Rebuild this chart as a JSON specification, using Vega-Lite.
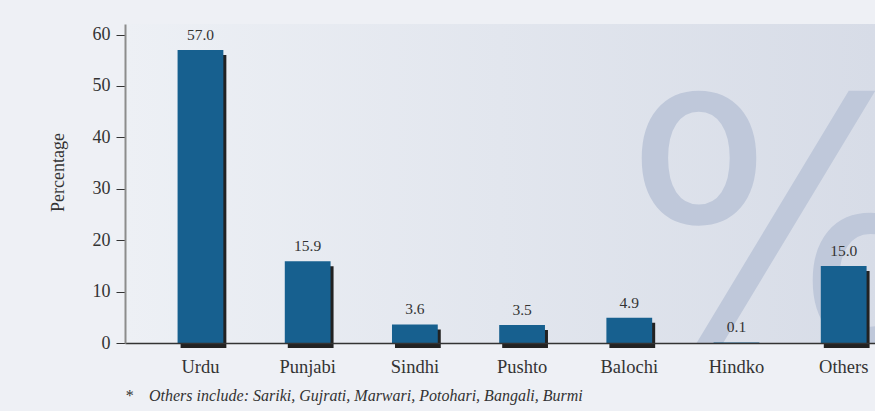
{
  "$schema": "https://vega.github.io/schema/vega-lite/v6.json",
  "width": 750,
  "height": 319,
  "autosize": {"type": "none"},
  "padding": {"left": 125, "top": 24, "right": 0, "bottom": 68},
  "background": "#eef0f5",
  "config": {"view": {"stroke": null}},
  "title": {
    "text": "*\u00a0\u00a0\u00a0\u00a0Others include: Sariki, Gujrati, Marwari, Potohari, Bangali, Burmi",
    "orient": "bottom",
    "anchor": "start",
    "frame": "group",
    "offset": 12,
    "font": "Liberation Serif",
    "fontSize": 16,
    "fontStyle": "italic",
    "fontWeight": "normal",
    "color": "#333333"
  },
  "data": {
    "values": [
      {"lang": "Urdu", "pct": 57.0},
      {"lang": "Punjabi", "pct": 15.9},
      {"lang": "Sindhi", "pct": 3.6},
      {"lang": "Pushto", "pct": 3.5},
      {"lang": "Balochi", "pct": 4.9},
      {"lang": "Hindko", "pct": 0.1},
      {"lang": "Others", "pct": 15.0}
    ]
  },
  "layer": [
    {
      "data": {"values": [{"panel": "background"}]},
      "mark": {
        "type": "rect",
        "color": {
          "gradient": "linear",
          "x1": 0, "y1": 0, "x2": 1, "y2": 0,
          "stops": [
            {"offset": 0, "color": "#edf0f5"},
            {"offset": 1, "color": "#d7dce7"}
          ]
        }
      },
      "encoding": {}
    },
    {
      "data": {"values": [{"symbol": "%", "lang": "Hindko", "pct": 0}]},
      "mark": {
        "type": "text",
        "font": "DejaVu Sans",
        "fontSize": 340,
        "color": "#bfc8da",
        "clip": true,
        "dx": 48,
        "align": "center",
        "baseline": "alphabetic"
      },
      "encoding": {
        "x": {"field": "lang", "type": "nominal", "sort": ["Urdu", "Punjabi", "Sindhi", "Pushto", "Balochi", "Hindko", "Others"]},
        "y": {"field": "pct", "type": "quantitative"},
        "text": {"field": "symbol"}
      }
    },
    {
      "transform": [{"filter": "datum.pct > 1"}],
      "mark": {"type": "bar", "color": "#222222", "xOffset": 3, "yOffset": 5},
      "encoding": {
        "x": {"field": "lang", "type": "nominal", "sort": ["Urdu", "Punjabi", "Sindhi", "Pushto", "Balochi", "Hindko", "Others"]},
        "y": {"field": "pct", "type": "quantitative"}
      }
    },
    {
      "mark": {"type": "bar", "color": "#17608f"},
      "encoding": {
        "x": {
          "field": "lang",
          "type": "nominal",
          "sort": ["Urdu", "Punjabi", "Sindhi", "Pushto", "Balochi", "Hindko", "Others"],
          "scale": {"paddingInner": 0.573, "paddingOuter": 0.2845, "align": 0.862},
          "axis": {
            "title": null,
            "labelAngle": 0,
            "labelAlign": "center",
            "labelFont": "Liberation Serif",
            "labelFontSize": 18.5,
            "labelColor": "#333333",
            "ticks": false,
            "tickSize": 0,
            "labelPadding": 14,
            "labelBaseline": "top",
            "domainColor": "#333333",
            "domainWidth": 1.5,
            "zindex": 1
          }
        },
        "y": {
          "field": "pct",
          "type": "quantitative",
          "scale": {"domain": [0, 62.06], "nice": false, "zero": true},
          "axis": {
            "title": "Percentage",
            "values": [0, 10, 20, 30, 40, 50, 60],
            "grid": false,
            "labelFont": "Liberation Serif",
            "labelFontSize": 18,
            "labelColor": "#333333",
            "labelPadding": 6,
            "tickColor": "#333333",
            "tickSize": 9,
            "domainColor": "#8c8c8c",
            "domainWidth": 2,
            "titleFont": "Liberation Serif",
            "titleFontSize": 18,
            "titleFontWeight": "normal",
            "titleColor": "#333333",
            "titlePadding": 25,
            "titleY": 148,
            "zindex": 1
          }
        }
      }
    },
    {
      "mark": {
        "type": "text",
        "font": "Liberation Serif",
        "fontSize": 15.5,
        "color": "#333333",
        "baseline": "alphabetic",
        "dy": -10
      },
      "encoding": {
        "x": {"field": "lang", "type": "nominal", "sort": ["Urdu", "Punjabi", "Sindhi", "Pushto", "Balochi", "Hindko", "Others"]},
        "y": {"field": "pct", "type": "quantitative"},
        "text": {"field": "pct", "type": "quantitative", "format": ".1f"}
      }
    }
  ]
}
